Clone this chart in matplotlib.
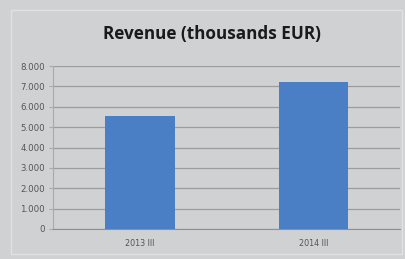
import matplotlib.pyplot as plt
from matplotlib.patches import Rectangle
from matplotlib.ticker import FuncFormatter

categories = ['2013 III', '2014 III']
revenue = [5550, 7200]
y_ticks = [0, 1000, 2000, 3000, 4000, 5000, 6000, 7000, 8000]

bg = '#cfd1d3'
fig = plt.figure(figsize=(4.05, 2.59), dpi=100, facecolor=bg)

# frame of the chart area
fig.patches.append(Rectangle((0.027, 0.02), 0.965, 0.94, transform=fig.transFigure,
                             fill=False, edgecolor='#dfe1e3', linewidth=1.0))

ax = fig.add_axes([0.131, 0.116, 0.857, 0.629])
ax.set_facecolor(bg)

x = range(len(categories))
ax.bar(x, revenue, width=0.4, color='#4a7fc6', zorder=3)

ax.set_xlim(-0.5, 1.5)
ax.set_ylim(0, 8000)
ax.set_yticks(y_ticks)
ax.yaxis.set_major_formatter(FuncFormatter(lambda v, p: f'{int(v):,}'.replace(',', '.')))
ax.set_xticks(list(x))
ax.set_xticklabels(categories)
ax.grid(axis='y', color='#9a9c9e', linewidth=0.9, zorder=0)

for s in ['top', 'right']:
    ax.spines[s].set_visible(False)
ax.spines['left'].set_color('#a8aaac')
ax.spines['bottom'].set_color('#8e9092')
ax.tick_params(axis='y', labelsize=6.2, labelcolor='#555555', length=3, color='#a8aaac', pad=3)
ax.tick_params(axis='x', labelsize=5.8, labelcolor='#555555', length=0, pad=7)

fig.text(0.523, 0.868, 'Revenue (thousands EUR)', ha='center', va='center',
         fontsize=12.3, fontweight='bold', color='#1a1a1a', family='Open Sans')

fig.savefig('out.png', dpi=100, facecolor=bg)
